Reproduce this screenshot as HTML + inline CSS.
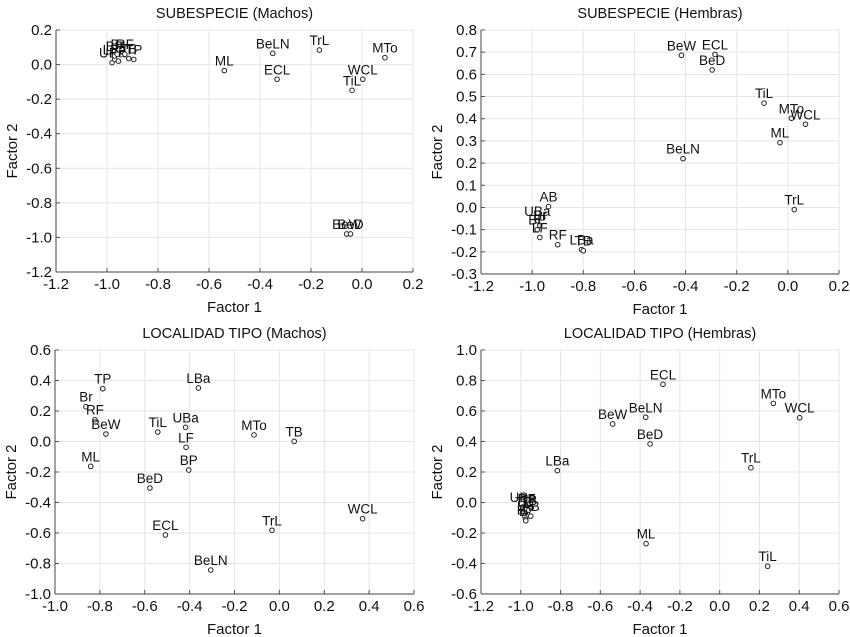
<!DOCTYPE html>
<html><head><meta charset="utf-8">
<style>
html,body{margin:0;padding:0;background:#fff;}
svg{display:block;font-family:"Liberation Sans",Arial,sans-serif;}
</style></head>
<body>
<svg id="chart" width="850" height="637" viewBox="0 0 850 637" xmlns="http://www.w3.org/2000/svg"></svg>
<script>
// ---- Panel 1: SUBESPECIE (Machos)
const p1Labels = ["UBa","LBa","LF","TB","TP","BP","Br","RF","ML","BeLN","ECL","TrL","MTo","WCL","TiL","BeW","BeD"];
const p1X = [-0.98,-0.97,-0.955,-0.915,-0.895,-0.97,-0.96,-0.93,-0.54,-0.35,-0.333,-0.167,0.09,0.003,-0.039,-0.06,-0.045];
const p1Y = [0.011,0.03,0.02,0.035,0.03,0.05,0.06,0.06,-0.035,0.065,-0.085,0.084,0.04,-0.085,-0.149,-0.98,-0.98];
const p1XTicks = ["-1.2","-1.0","-0.8","-0.6","-0.4","-0.2","0.0","0.2"];
const p1YTicks = ["-1.2","-1.0","-0.8","-0.6","-0.4","-0.2","0.0","0.2"];
// ---- Panel 2: SUBESPECIE (Hembras)
const p2Labels = ["BeW","ECL","BeD","TiL","MTo","WCL","ML","BeLN","TrL","AB","UBa","Br","BP","LF","RF","LBa","TB"];
const p2X = [-0.416,-0.285,-0.296,-0.093,0.014,0.069,-0.031,-0.41,0.025,-0.936,-0.98,-0.97,-0.98,-0.97,-0.9,-0.807,-0.8];
const p2Y = [0.686,0.69,0.62,0.47,0.402,0.375,0.292,0.22,-0.01,0.004,-0.06,-0.08,-0.1,-0.135,-0.168,-0.19,-0.195];
const p2XTicks = ["-1.2","-1.0","-0.8","-0.6","-0.4","-0.2","0.0","0.2"];
const p2YTicks = ["-0.3","-0.2","-0.1","0.0","0.1","0.2","0.3","0.4","0.5","0.6","0.7","0.8"];
// ---- Panel 3: LOCALIDAD TIPO (Machos)
const p3Labels = ["TP","Br","RF","BeW","ML","TiL","LBa","UBa","LF","BP","BeD","ECL","BeLN","MTo","TB","TrL","WCL"];
const p3X = [-0.787,-0.862,-0.822,-0.773,-0.841,-0.542,-0.361,-0.418,-0.416,-0.404,-0.577,-0.508,-0.306,-0.113,0.066,-0.033,0.371];
const p3Y = [0.346,0.228,0.143,0.049,-0.163,0.062,0.351,0.093,-0.038,-0.187,-0.305,-0.613,-0.843,0.043,0.001,-0.582,-0.506];
const p3XTicks = ["-1.0","-0.8","-0.6","-0.4","-0.2","0.0","0.2","0.4","0.6"];
const p3YTicks = ["-1.0","-0.8","-0.6","-0.4","-0.2","0.0","0.2","0.4","0.6"];
// ---- Panel 4: LOCALIDAD TIPO (Hembras)
const p4Labels = ["ECL","MTo","WCL","BeW","BeLN","BeD","LBa","TrL","ML","TiL","UBa","TP","LF","BP","Br","RF","TB","AB"];
const p4X = [-0.285,0.27,0.402,-0.538,-0.372,-0.35,-0.816,0.157,-0.37,0.241,-0.99,-0.985,-0.98,-0.975,-0.975,-0.97,-0.96,-0.95];
const p4Y = [0.775,0.65,0.556,0.515,0.559,0.384,0.209,0.228,-0.27,-0.418,-0.03,-0.06,-0.09,-0.11,-0.12,-0.04,-0.05,-0.09];
const p4XTicks = ["-1.2","-1.0","-0.8","-0.6","-0.4","-0.2","0.0","0.2","0.4","0.6"];
const p4YTicks = ["-0.6","-0.4","-0.2","0.0","0.2","0.4","0.6","0.8","1.0"];

const NS = "http://www.w3.org/2000/svg";
const svg = document.getElementById('chart');
function mk(tag, attrs, parent){
  const e = document.createElementNS(NS, tag);
  for (const k in attrs) e.setAttribute(k, attrs[k]);
  (parent||svg).appendChild(e);
  return e;
}
const panels = [
  {id:"subespecie-machos", title:"SUBESPECIE (Machos)", L:56, R:413, T:30, B:272, labels:p1Labels, xs:p1X, ys:p1Y, xt:p1XTicks, yt:p1YTicks},
  {id:"subespecie-hembras", title:"SUBESPECIE (Hembras)", L:481, R:839, T:30, B:274, labels:p2Labels, xs:p2X, ys:p2Y, xt:p2XTicks, yt:p2YTicks},
  {id:"localidad-machos", title:"LOCALIDAD TIPO (Machos)", L:55, R:414, T:350, B:594, labels:p3Labels, xs:p3X, ys:p3Y, xt:p3XTicks, yt:p3YTicks},
  {id:"localidad-hembras", title:"LOCALIDAD TIPO (Hembras)", L:481, R:839, T:350, B:594, labels:p4Labels, xs:p4X, ys:p4Y, xt:p4XTicks, yt:p4YTicks}
];
panels.forEach(p => {
  const g = mk('g', {});
  
  
  const x0 = parseFloat(p.xt[0]), x1 = parseFloat(p.xt[p.xt.length-1]);
  const y0 = parseFloat(p.yt[0]), y1 = parseFloat(p.yt[p.yt.length-1]);
  const sx = v => p.L + (v - x0) / (x1 - x0) * (p.R - p.L);
  const sy = v => p.B - (v - y0) / (y1 - y0) * (p.B - p.T);
  p.xt.forEach(t => {
    const x = sx(parseFloat(t));
    const gl = mk('line', {x1:x, x2:x, y1:p.T, y2:p.B, stroke:'#e4e4e4', 'stroke-width':1}, g);
    
    
    mk('line', {x1:x, x2:x, y1:p.B, y2:p.B-4, stroke:'#555', 'stroke-width':1}, g);
    const tx = mk('text', {x:x, y:p.B+17, 'font-size':15, 'text-anchor':'middle', fill:'#111'}, g);
    
    
    tx.textContent = t;
  });
  p.yt.forEach(t => {
    const y = sy(parseFloat(t));
    const gl = mk('line', {x1:p.L, x2:p.R, y1:y, y2:y, stroke:'#e4e4e4', 'stroke-width':1}, g);
    
    
    mk('line', {x1:p.L, x2:p.L+4, y1:y, y2:y, stroke:'#555', 'stroke-width':1}, g);
    const ty = mk('text', {x:p.L-4, y:y+5, 'font-size':15, 'text-anchor':'end', fill:'#111'}, g);
    
    
    ty.textContent = t;
  });
  const ax = mk('line', {x1:p.L, x2:p.R, y1:p.B, y2:p.B, stroke:'#444', 'stroke-width':1}, g);
  
  
  const ay = mk('line', {x1:p.L, x2:p.L, y1:p.T, y2:p.B, stroke:'#444', 'stroke-width':1}, g);
  
  
  const ti = mk('text', {x:(p.L+p.R)/2, y:p.T-12, 'font-size':14.5, 'text-anchor':'middle', fill:'#111'}, g);
  
  
  ti.textContent = p.title;
  const xl = mk('text', {x:(p.L+p.R)/2, y:p.B+40, 'font-size':15, 'text-anchor':'middle', fill:'#111'}, g);
  
  
  xl.textContent = 'Factor 1';
  const yc = (p.T+p.B)/2, xc = p.L - 39;
  const yl = mk('text', {x:xc, y:yc, 'font-size':15, 'text-anchor':'middle', fill:'#111', transform:`rotate(-90 ${xc} ${yc})`}, g);
  
  
  yl.textContent = 'Factor 2';
  p.labels.forEach((lab, i) => {
    const cx = sx(p.xs[i]), cy = sy(p.ys[i]);
    const c = mk('circle', {cx:cx, cy:cy, r:2.3, fill:'#fff', stroke:'#222', 'stroke-width':1}, g);
    
    
    const t = mk('text', {x:cx, y:cy-5, 'font-size':13.5, 'text-anchor':'middle', fill:'#111'}, g);
    
    
    t.textContent = lab;
  });
});
</script>
</body></html>
